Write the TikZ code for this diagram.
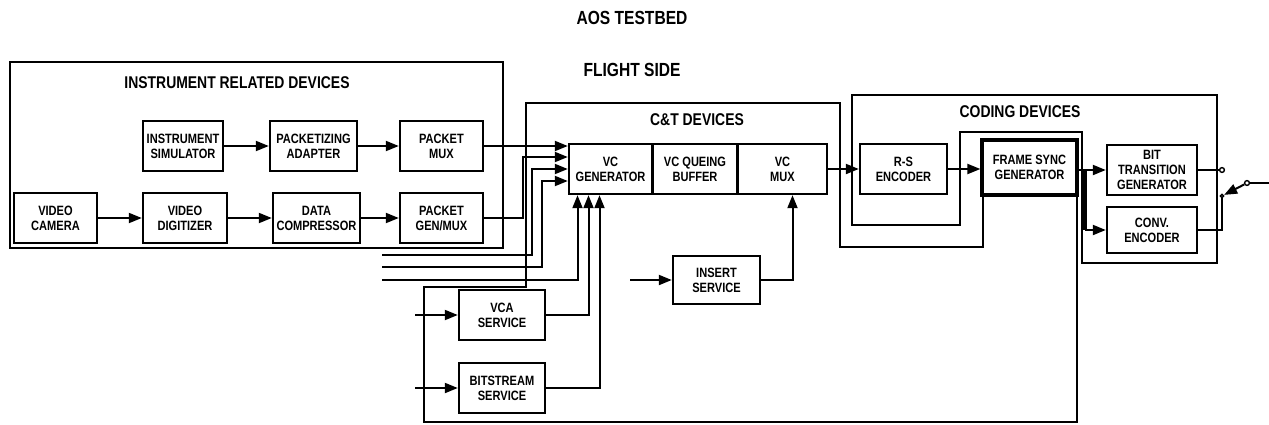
\documentclass[tikz,border=0pt]{standalone}
\usepackage{fontspec}
\setmainfont{Liberation Sans}
\newfontfamily\condsf{Liberation Sans}[FakeStretch=0.82]
\usepackage{tikz}
\usetikzlibrary{arrows.meta, positioning, calc}

\begin{document}
\begin{tikzpicture}[
  x=1pt, y=-1pt,
  blk/.style={draw, fill=white, line width=2.4pt, align=center, inner sep=1pt,
    minimum width=84, minimum height=50, font=\condsf\bfseries\fontsize{13.5}{15}\selectfont},
  grp/.style={draw, line width=2pt},
  grplbl/.style={font=\condsf\bfseries\fontsize{17}{19}\selectfont},
  ttl/.style={font=\condsf\bfseries\fontsize{19}{21}\selectfont},
  conn/.style={line width=2pt},
  arr/.style={conn, -{Triangle[length=13pt, width=10pt]}},
  term/.style={draw, circle, fill=white, line width=1.4pt, inner sep=1.7pt}
]
  \useasboundingbox (0,0) rectangle (1269,424);

  % group outlines
  \draw[grp] (10,62) rectangle (503,248);
  \draw[grp] (526,103) -- (840,103) -- (840,247) -- (983,247) -- (983,140)
    -- (1077,140) -- (1077,422) -- (424,422) -- (424,287) -- (526,287) -- cycle;
  \draw[grp] (852,95) -- (1217,95) -- (1217,263) -- (1082,263) -- (1082,132)
    -- (960,132) -- (960,225) -- (852,225) -- cycle;

  % titles
  \node[ttl] (title) at (632,18) {AOS TESTBED};
  \node[ttl] (side) at (632,70) {FLIGHT SIDE};
  \node[grplbl] (irdlbl) at (237,83) {INSTRUMENT RELATED DEVICES};
  \node[grplbl] (ctlbl) at (697,120) {C\&T DEVICES};
  \node[grplbl] (codlbl) at (1020,112) {CODING DEVICES};

  % instrument related devices
  \node[blk, minimum width=80] (isim) at (183,146) {INSTRUMENT\\SIMULATOR};
  \node[blk, minimum width=87] (padapt) at (313.5,146) {PACKETIZING\\ADAPTER};
  \node[blk, minimum width=83] (pmux) at (441.5,146) {PACKET\\MUX};
  \node[blk, minimum width=83] (vcam) at (55.5,218) {VIDEO\\CAMERA};
  \node[blk] (vdig) at (185,218) {VIDEO\\DIGITIZER};
  \node[blk, minimum width=87] (dcomp) at (316.5,218) {DATA\\COMPRESSOR};
  \node[blk, minimum width=83] (pgen) at (441.5,218) {PACKET\\GEN/MUX};

  % C&T devices
  \node[blk, minimum width=83] (vcgen) at (610.5,169) {VC\\GENERATOR};
  \node[blk] (vcqb) at (695,169) {VC QUEING\\BUFFER};
  \node[blk, minimum width=89] (vcmux) at (782.5,169) {VC\\MUX};
  \node[blk, minimum width=87, minimum height=48] (insert) at (716.5,280) {INSERT\\SERVICE};
  \node[blk, minimum width=86] (vca) at (502,315) {VCA\\SERVICE};
  \node[blk, minimum width=86] (bitstr) at (502,388) {BITSTREAM\\SERVICE};

  % coding devices
  \node[blk, minimum width=87] (rse) at (903.5,169) {R-S\\ENCODER};
  \node[blk, minimum width=95, minimum height=55, line width=3.2pt] (fsg) at (1029.5,167.5) {FRAME SYNC\\GENERATOR};
  \node[blk, minimum width=90] (btg) at (1152,170) {BIT\\TRANSITION\\GENERATOR};
  \node[blk, minimum width=90, minimum height=46] (conv) at (1152,230) {CONV.\\ENCODER};

  % connectors
  \draw[arr] (isim) -- (padapt);
  \draw[arr] (padapt) -- (pmux);
  \draw[arr] (vcam) -- (vdig);
  \draw[arr] (vdig) -- (dcomp);
  \draw[arr] (dcomp) -- (pgen);

  \coordinate (src1) at (382,255);
  \coordinate (src2) at (382,267);
  \coordinate (src3) at (382,280);
  \draw[arr] (pmux.east) -- (pmux.east -| vcgen.west);
  \draw[arr] (pgen.east) -| ($(vcgen.west)+(-45,-12)$) -- ($(vcgen.west)+(0,-12)$);
  \draw[arr] (src1) -| ($(vcgen.west)+(-36,0)$) -- (vcgen.west);
  \draw[arr] (src2) -| ($(vcgen.west)+(-26,12)$) -- ($(vcgen.west)+(0,12)$);
  \draw[arr] (src3) -| ($(vcgen.south)+(-33,0)$);
  \draw[arr] (vca.east) -| ($(vcgen.south)+(-22,0)$);
  \draw[arr] (bitstr.east) -| ($(vcgen.south)+(-11,0)$);

  \coordinate (vcain) at (415,315);
  \coordinate (bsin) at (415,388);
  \coordinate (insin) at (630,280);
  \draw[arr] (vcain) -- (vca.west);
  \draw[arr] (bsin) -- (bitstr.west);
  \draw[arr] (insin) -- (insert.west);
  \draw[arr] (insert.east) -| ($(vcmux.south)+(10,0)$);

  \draw[arr] (vcmux.east) -- (vcmux.east -| rse.west);
  \draw[arr] (rse.east) -- (rse.east -| fsg.west);
  \coordinate (bus) at (1085,170);
  \draw[conn] (fsg.east |- bus) -- (bus);
  \draw[line width=3.5pt] (bus) -- (bus |- conv.west);
  \draw[arr] (bus) -- (bus -| btg.west);
  \draw[arr] (bus |- conv.west) -- (conv.west);

  % output switch
  \node[term] (t1) at (1222,170) {};
  \node[term, inner sep=1.2pt] (piv) at (1222,196) {};
  \node[term] (t2) at (1247,183) {};
  \coordinate (out) at (1269,183);
  \draw[conn] (btg.east) -- (t1);
  \draw[conn] (conv.east) -| (piv);
  \draw[arr] (t2) -- (piv);
  \draw[conn] (t2) -- (out);
\end{tikzpicture}
\end{document}
